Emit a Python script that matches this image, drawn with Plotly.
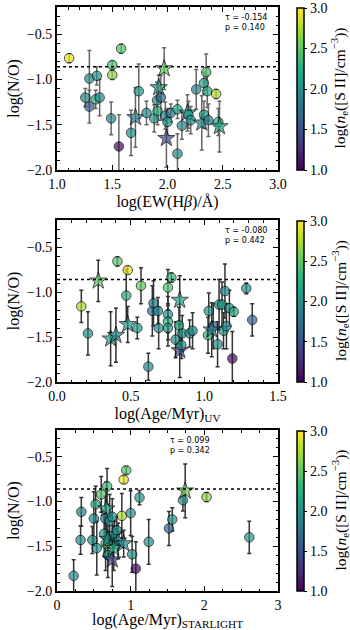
import plotly.graph_objects as go

# ---------------- data ----------------
# Panel 1: log(EW(Hbeta)/A)
x1 = [1.11, 1.256, 1.293, 1.293, 1.36, 1.35, 1.386, 1.49, 1.50, 1.50, 1.58, 1.56, 1.67, 1.71, 1.74, 1.81, 1.88, 1.91, 1.92, 1.905,
      1.94, 1.97, 1.99, 1.98, 2.00, 2.03, 2.09, 2.09, 2.13, 2.18, 2.19, 2.21, 2.26, 2.31, 2.33, 2.35, 2.33, 2.36, 2.37, 2.44, 2.46, 2.47]
y1 = [-0.765, -1.20, -1.30, -0.99, -0.96, -1.22, -1.20, -1.43, -0.84, -0.95, -0.66, -1.74, -1.59, -1.42, -1.13, -1.37, -1.43, -1.35, -1.09, -1.23,
      -1.20, -0.88, -1.65, -1.40, -1.47, -1.37, -1.82, -1.33, -1.51, -1.37, -1.39, -1.45, -1.11, -1.48, -1.39, -0.92, -1.04, -1.13, -1.45, -1.16, -1.47, -1.52]
e1 = [0.05, 0.1, 0.18, 0.31, 0.1, 0.1, 0.2, 0.18, 0.04, 0.05, 0.05, 0.35, 0.25, 0.33, 0.3, 0.13, 0.15, 0.15, 0.14, 0.2,
      0.25, 0.23, 0.32, 0.15, 0.15, 0.1, 0.22, 0.1, 0.15, 0.2, 0.15, 0.15, 0.22, 0.3, 0.15, 0.2, 0.12, 0.18, 0.18, 0.05, 0.15, 0.28]
ne1 = [2.95, 1.95, 1.6, 1.95, 2.05, 2.2, 2.0, 1.9, 2.4, 2.65, 2.45, 1.05, 2.0, 1.85, 2.05, 1.95, 2.05, 2.2, 2.05, 1.9,
       1.65, 2.5, 1.45, 1.95, 2.1, 1.8, 1.95, 2.2, 1.95, 2.05, 2.1, 2.05, 1.85, 1.9, 2.05, 2.45, 2.15, 2.2, 1.85, 2.75, 2.25, 2.15]
stars1 = [13, 18, 21, 22, 29, 33, 41]

# Panel 2: log(Age/Myr)_UV
x2 = [0.165, 0.21, 0.28, 0.364, 0.40, 0.41, 0.48, 0.47, 0.48, 0.57, 0.545, 0.62, 0.647, 0.655, 0.685, 0.69, 0.753, 0.776, 0.753, 0.753,
      0.753, 0.833, 0.805, 0.828, 0.85, 0.833, 0.844, 0.90, 0.92, 1.025, 1.03, 1.06, 1.05, 1.09, 1.10, 1.12, 1.13, 1.14, 1.15, 1.17,
      1.20, 1.19, 1.285, 1.325]
y2 = [-1.16, -1.46, -0.876, -1.52, -1.48, -0.66, -0.757, -1.04, -1.36, -0.93, -1.40, -1.83, -1.21, -1.125, -1.21, -1.40, -0.95, -0.84, -1.25, -1.33,
      -1.40, -1.09, -1.53, -1.37, -1.46, -1.65, -1.59, -1.46, -1.43, -1.48, -1.21, -1.38, -1.42, -1.58, -1.14, -1.14, -1.43, -0.99, -1.38, -1.18,
      -1.22, -1.74, -0.96, -1.31]
e2 = [0.18, 0.24, 0.23, 0.3, 0.3, 0.05, 0.04, 0.29, 0.2, 0.2, 0.12, 0.15, 0.28, 0.25, 0.15, 0.23, 0.2, 0.05, 0.2, 0.2,
      0.2, 0.27, 0.2, 0.2, 0.2, 0.3, 0.15, 0.15, 0.2, 0.2, 0.2, 0.25, 0.3, 0.25, 0.28, 0.25, 0.2, 0.3, 0.25, 0.2,
      0.05, 0.3, 0.06, 0.18]
ne2 = [2.75, 1.95, 2.5, 2.1, 1.9, 2.45, 2.95, 2.2, 2.05, 2.5, 2.05, 1.95, 1.75, 1.85, 1.95, 2.0, 2.45, 2.35, 2.0, 2.2,
       2.05, 2.1, 1.95, 2.2, 2.0, 1.45, 2.0, 1.95, 1.95, 2.35, 2.0, 1.65, 1.85, 2.0, 2.0, 2.05, 2.05, 1.95, 1.95, 2.05,
       2.2, 1.05, 2.0, 1.6]
stars2 = [2, 3, 4, 8, 21, 25, 32]

# Panel 3: log(Age/Myr)_STARLIGHT
x3 = [0.226, 0.32, 0.33, 0.60, 0.68, 0.525, 0.50, 0.48, 0.54, 0.67, 0.655, 0.715, 0.64, 0.66, 0.69, 0.75, 0.69, 0.75, 0.78, 0.83,
      0.77, 0.81, 0.905, 0.905, 0.94, 0.88, 1.0, 1.02, 1.07, 1.12, 1.245, 1.52, 1.565, 1.71, 1.74, 2.03, 2.61]
y3 = [-1.83, -1.43, -1.115, -0.92, -0.83, -1.03, -1.19, -1.43, -1.52, -1.08, -1.19, -1.22, -1.36, -1.47, -1.60, -1.65, -1.42, -1.17, -1.37, -1.44,
      -1.52, -1.32, -1.47, -0.755, -0.65, -1.16, -1.13, -1.59, -1.75, -0.955, -1.45, -1.30, -1.20, -0.985, -0.88, -0.95, -1.40]
e3 = [0.18, 0.16, 0.16, 0.2, 0.2, 0.2, 0.3, 0.15, 0.3, 0.3, 0.25, 0.3, 0.25, 0.3, 0.25, 0.3, 0.2, 0.2, 0.15, 0.2,
      0.25, 0.15, 0.15, 0.04, 0.04, 0.25, 0.25, 0.2, 0.3, 0.08, 0.25, 0.19, 0.13, 0.12, 0.3, 0.05, 0.18]
ne3 = [1.95, 1.95, 1.85, 2.45, 2.35, 2.2, 1.95, 2.0, 2.0, 2.1, 1.75, 2.0, 2.2, 2.4, 2.0, 1.45, 1.95, 2.0, 2.05, 1.95,
       2.2, 2.0, 1.9, 2.95, 2.45, 2.75, 2.0, 2.0, 1.05, 2.05, 2.0, 1.6, 2.0, 2.0, 2.55, 2.65, 2.05]
stars3 = [9, 15, 16, 18, 19, 20, 22, 34]

solar_NO = -0.86
stats = [("-0.154", "0.140"), ("-0.080", "0.442"), ("0.099", "0.342")]
x_titles = ["log(EW(H<i>β</i>)/Å)", "log(Age/Myr)<sub>UV</sub>", "log(Age/Myr)<sub>STARLIGHT</sub>"]
x_ranges = [[1.0, 3.0], [0.0, 1.5], [0.0, 3.0]]
x_ticks = [[1.0, 1.5, 2.0, 2.5, 3.0], [0.0, 0.5, 1.0, 1.5], [0, 1, 2, 3]]
x_ticktext = [["1.0", "1.5", "2.0", "2.5", "3.0"], ["0.0", "0.5", "1.0", "1.5"], ["0", "1", "2", "3"]]
x_minor = [0.1, 0.1, 0.25]
y_ticks = [-2.0, -1.5, -1.0, -0.5]
y_ticktext = ["−2.0", "−1.5", "−1.0", "−0.5"]
cb_ticks = [1.0, 1.5, 2.0, 2.5, 3.0]
cb_title = "log(<i>n</i><sub>e</sub>([S II]/cm<sup>−3</sup>))"

# ---------------- layout geometry ----------------
W, H = 350, 630
xdom = [57 / W, 278 / W]
panels_px = [(7, 170), (220, 382), (430, 591)]
ydoms = [[1 - b / H, 1 - t / H] for t, b in panels_px]

SERIF = "Liberation Serif, DejaVu Serif, serif"
SANS = "DejaVu Sans, sans-serif"
err_cols = ["#666666", "#333333", "#333333"]

fig = go.Figure()
data = [(x1, y1, e1, ne1, stars1), (x2, y2, e2, ne2, stars2), (x3, y3, e3, ne3, stars3)]

layout = dict(width=W, height=H, margin=dict(l=0, r=0, t=0, b=0, autoexpand=False),
              plot_bgcolor="white", paper_bgcolor="white", showlegend=False,
              font=dict(family=SERIF, color="black", size=14))
shapes = []
annotations = []

for i, (xs, ys, es, nes, st) in enumerate(data):
    k = "" if i == 0 else str(i + 1)
    sizes = [13 if j in st else 9.5 for j in range(len(xs))]
    syms = ["star" if j in st else "circle" for j in range(len(xs))]
    fig.add_trace(go.Scatter(
        x=xs, y=ys, mode="markers", xaxis="x" + k, yaxis="y" + k,
        error_y=dict(type="data", array=es, visible=True, color=err_cols[i], thickness=1.5, width=2),
        marker=dict(symbol=syms, size=sizes, color=nes, coloraxis="coloraxis" + k,
                    line=dict(color="black", width=1)),
    ))
    axcommon = dict(showline=True, linewidth=2, linecolor="black", mirror="ticks",
                    ticks="inside", ticklen=5, tickwidth=1, tickcolor="black",
                    showgrid=False, zeroline=False, automargin=False,
                    tickfont=dict(family=SERIF, size=14, color="black"))
    layout["xaxis" + k] = dict(axcommon, domain=xdom, anchor="y" + k, range=x_ranges[i],
                               tickvals=x_ticks[i], ticktext=x_ticktext[i],
                               minor=dict(ticks="inside", dtick=x_minor[i], ticklen=2.5, tickcolor="black"),
                               title=dict(text=x_titles[i], font=dict(family=SERIF, size=16), standoff=5))
    layout["yaxis" + k] = dict(axcommon, domain=ydoms[i], anchor="x" + k, range=[-2.0, -0.2],
                               tickvals=y_ticks, ticktext=y_ticktext,
                               minor=dict(ticks="inside", dtick=0.1, ticklen=2.5, tickcolor="black"),
                               title=dict(text="log(N/O)", font=dict(family=SERIF, size=16), standoff=3))
    t, b = panels_px[i]
    layout["coloraxis" + k] = dict(
        colorscale="Viridis", cmin=1.0, cmax=3.0,
        colorbar=dict(x=297 / W, xanchor="left", y=1 - (t + 1) / H, yanchor="top",
                      len=(b - t - 1) / H, lenmode="fraction", thickness=7,
                      xpad=0, ypad=0,
                      outlinewidth=1.5, outlinecolor="black",
                      tickvals=cb_ticks, ticktext=["%.1f" % v for v in cb_ticks],
                      ticks="outside", ticklen=3, tickcolor="black",
                      tickfont=dict(family=SERIF, size=14),
                      title=dict(text="")))
    shapes.append(dict(type="line", xref="x" + k + " domain", yref="y" + k,
                       x0=0, x1=1, y0=solar_NO, y1=solar_NO,
                       line=dict(color="black", width=1.5, dash="dot")))
    ax_x = 0.75 if i < 2 else 0.50
    annotations.append(dict(xref="x" + k + " domain", yref="y" + k + " domain",
                            x=ax_x, y=0.975, xanchor="left", yanchor="top", align="left",
                            showarrow=False,
                            text="τ = %s<br>p = %s" % stats[i],
                            font=dict(family=SANS, size=8, color="black")))
    annotations.append(dict(xref="paper", yref="paper", x=340 / W, y=1 - (t + b) / 2 / H,
                            xanchor="center", yanchor="middle", textangle=-90, showarrow=False,
                            text=cb_title, font=dict(family=SERIF, size=15.5, color="black")))

layout["shapes"] = shapes
layout["annotations"] = annotations
fig.update_layout(**layout)
fig.write_html("out.html", config={"displayModeBar": False},
               post_script="document.body.style.margin='0';document.body.style.overflow='hidden';")
